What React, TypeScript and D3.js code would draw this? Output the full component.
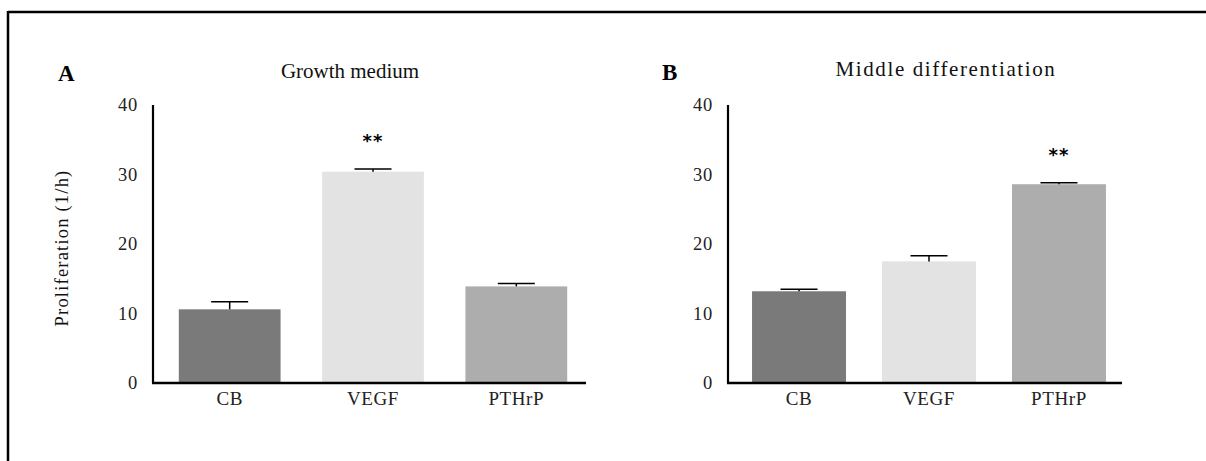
import React from "react";
import * as d3 from "d3";

const categories = ["CB", "VEGF", "PTHrP"];
const growthValues = [10.6, 30.4, 13.9];
const growthErrors = [1.1, 0.4, 0.4];
const middleValues = [13.2, 17.5, 28.6];
const middleErrors = [0.3, 0.8, 0.2];
const yTicks = [0, 10, 20, 30, 40];
const barColors = ["#7a7a7a", "#e3e3e3", "#adadad"];

const SERIF = "'Liberation Serif', 'Times New Roman', serif";

type PanelProps = {
  letter: string;
  title: string;
  values: number[];
  errors: number[];
  sig: number;
  axisX: number;
  axisEnd: number;
  rangeEnd: number;
  padInner: number;
  padOuter: number;
  titleX: number;
  titleY: number;
  letterX: number;
  letterY: number;
  titleSpacing: number;
  showYLabel: boolean;
};

function Panel(p: PanelProps) {
  const y = d3.scaleLinear().domain([0, 40]).range([383, 105]);
  const x = d3
    .scaleBand<string>()
    .domain(categories)
    .range([p.axisX, p.rangeEnd])
    .paddingInner(p.padInner)
    .paddingOuter(p.padOuter);
  const bw = x.bandwidth();
  const cap = 37;
  return (
    <g>
      <text x={p.letterX} y={p.letterY} fontFamily={SERIF} fontWeight="bold" fontSize={23}>
        {p.letter}
      </text>
      <text
        x={p.titleX}
        y={p.titleY}
        textAnchor="middle"
        fontFamily={SERIF}
        fontSize={21}
        letterSpacing={p.titleSpacing}
        fill="#111"
      >
        {p.title}
      </text>
      {p.showYLabel && (
        <text
          transform={`translate(68,248) rotate(-90)`}
          textAnchor="middle"
          fontFamily={SERIF}
          fontSize={18.5}
          letterSpacing={1.2}
          fill="#111"
        >
          Proliferation (1/h)
        </text>
      )}
      {categories.map((c, i) => (
        <rect
          key={c}
          x={x(c)}
          y={y(p.values[i])}
          width={bw}
          height={y(0) - y(p.values[i])}
          fill={barColors[i]}
        />
      ))}
      {categories.map((c, i) => {
        const cx = (x(c) as number) + bw / 2;
        const top = y(p.values[i] + p.errors[i]);
        return (
          <g key={c + "e"} stroke="#000" strokeWidth={1.5}>
            <line x1={cx} x2={cx} y1={y(p.values[i])} y2={top} />
            <line x1={cx - cap / 2} x2={cx + cap / 2} y1={top} y2={top} />
          </g>
        );
      })}
      <text
        x={(x(categories[p.sig]) as number) + bw / 2}
        y={y(p.values[p.sig] + p.errors[p.sig]) - 22}
        textAnchor="middle"
        fontFamily="'DejaVu Sans', sans-serif"
        fontWeight="bold"
        fontSize={18}
        letterSpacing={1}
      >
        **
      </text>
      <line x1={p.axisX} x2={p.axisX} y1={y(40)} y2={y(0)} stroke="#000" strokeWidth={2.2} />
      <line x1={p.axisX - 1} x2={p.axisEnd} y1={y(0)} y2={y(0)} stroke="#000" strokeWidth={2.5} />
      {yTicks.map((t) => (
        <text
          key={t}
          x={p.axisX - 15}
          y={y(t)}
          dy="0.35em"
          textAnchor="end"
          fontFamily={SERIF}
          fontSize={18.5}
          letterSpacing={0.8}
          fill="#222"
        >
          {t}
        </text>
      ))}
      {categories.map((c) => (
        <text
          key={c + "l"}
          x={(x(c) as number) + bw / 2}
          y={405}
          textAnchor="middle"
          fontFamily={SERIF}
          fontSize={19}
          letterSpacing={0.6}
          fill="#222"
        >
          {c}
        </text>
      ))}
    </g>
  );
}

export default function App() {
  return (
    <svg
      width={1206}
      height={461}
      style={{ position: "absolute", left: 0, top: 0, background: "#fff" }}
    >
      <rect x={0} y={0} width={1206} height={461} fill="#fff" />
      <line x1={8} x2={1206} y1={12} y2={12} stroke="#000" strokeWidth={2.5} />
      <line x1={8} x2={8} y1={11} y2={461} stroke="#000" strokeWidth={2.5} />
      <Panel
        letter="A"
        title="Growth medium"
        values={growthValues}
        errors={growthErrors}
        sig={1}
        axisX={153}
        axisEnd={586}
        rangeEnd={593}
        padInner={0.29}
        padOuter={0.18}
        titleX={350}
        titleY={78}
        letterX={58}
        letterY={81}
        titleSpacing={0}
        showYLabel={true}
      />
      <Panel
        letter="B"
        title="Middle differentiation"
        values={middleValues}
        errors={middleErrors}
        sig={2}
        axisX={728}
        axisEnd={1122}
        rangeEnd={1130}
        padInner={0.277}
        padOuter={0.185}
        titleX={946}
        titleY={76}
        letterX={662}
        letterY={80}
        titleSpacing={1.6}
        showYLabel={false}
      />
    </svg>
  );
}
